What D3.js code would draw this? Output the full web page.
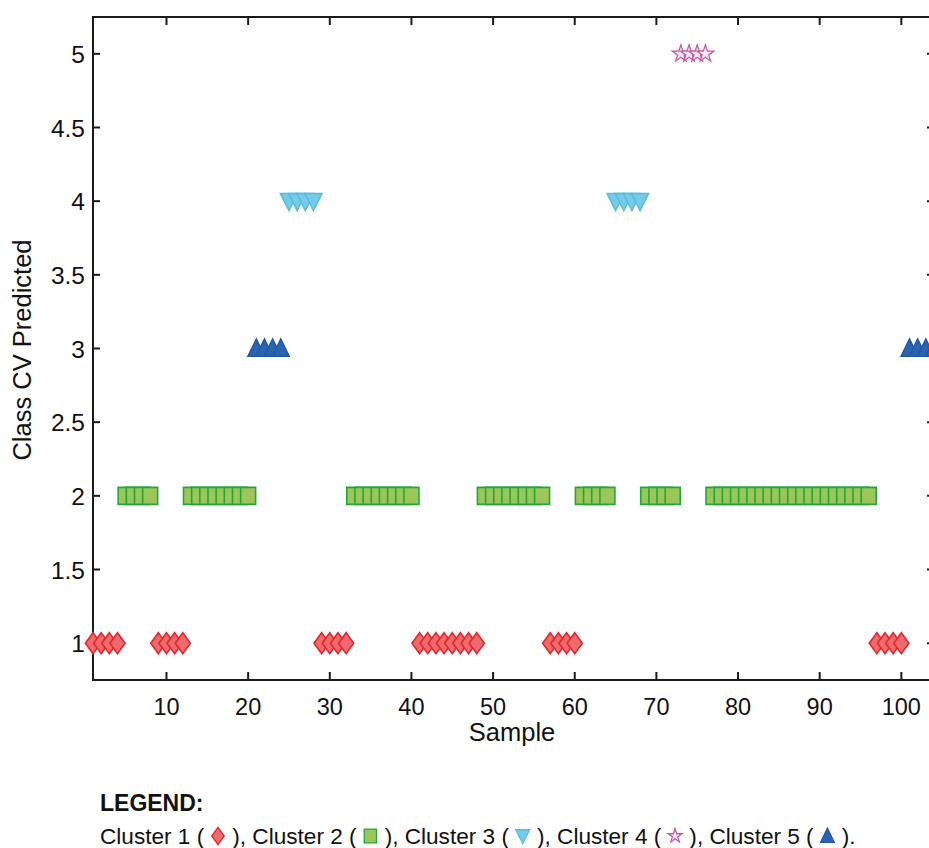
<!DOCTYPE html>
<html>
<head>
<meta charset="utf-8">
<script src="https://cdn.jsdelivr.net/npm/d3@7"></script>
<style>
  body { margin: 0; background: #fff; }
  svg { display: block; font-family: "Liberation Sans", Arial, sans-serif; }
  text { white-space: pre; }
</style>
</head>
<body>
<div id="chart"></div>
<script>
// predicted class for each sample (1..104)
const samples = d3.range(1, 105);
const predicted = [
  1,1,1,1, 2,2,2,2, 1,1,1,1, 2,2,2,2,2,2,2,2,
  3,3,3,3, 4,4,4,4, 1,1,1,1, 2,2,2,2,2,2,2,2,
  1,1,1,1,1,1,1,1, 2,2,2,2,2,2,2,2, 1,1,1,1,
  2,2,2,2, 4,4,4,4, 2,2,2,2, 5,5,5,5,
  2,2,2,2,2,2,2,2,2,2,2,2,2,2,2,2,2,2,2,2,
  1,1,1,1, 3,3,3,3
];
// which cluster each predicted class belongs to
const classCluster = {1: 1, 2: 2, 3: 5, 4: 3, 5: 4};
const clusterNames = ["Cluster 1", "Cluster 2", "Cluster 3", "Cluster 4", "Cluster 5"];
const xTicks = [10, 20, 30, 40, 50, 60, 70, 80, 90, 100];
const yTicks = [1, 1.5, 2, 2.5, 3, 3.5, 4, 4.5, 5];

const W = 929, H = 848;
const margin = {top: 17, left: 93, bottom: 680, right: 934};

const styles = {
  1: {fill: "#ee6a6d", stroke: "#e4262c"},
  2: {fill: "#9cc65a", stroke: "#21a83d"},
  3: {fill: "#76cbe9", stroke: "#55bde0"},
  4: {fill: "#fcebf5", stroke: "#c45ca8"},
  5: {fill: "#2b63ae", stroke: "#2159a5"}
};

function markerPath(c, k) {
  k = k || 1;
  if (c === 1) {
    const w = 7.6 * k, h = 10.5 * k;
    return `M0,${-h}L${w},0L0,${h}L${-w},0Z`;
  }
  if (c === 2) {
    const w = 7.5 * k, h = 8.5 * k;
    return `M${-w},${-h}H${w}V${h}H${-w}Z`;
  }
  if (c === 3) {
    const w = 8.5 * k, h = 8.5 * k;
    return `M${-w},${-h * 0.9}H${w}L0,${h * 1.1}Z`;
  }
  if (c === 4) return d3.symbol().type(d3.symbolStar).size(90 * k * k)();
  const w = 8.3 * k, h = 8.5 * k;
  return `M${-w},${h * 0.9}H${w}L0,${-h * 1.1}Z`;
}

const svg = d3.select("#chart").append("svg")
  .attr("width", W).attr("height", H);

const x = d3.scaleLinear().domain([1, 104]).range([margin.left, margin.right]);
const y = d3.scaleLinear().domain([0.75, 5.25]).range([margin.bottom, margin.top]);

const axisColor = "#1a1a1a";

// box frame
svg.append("rect")
  .attr("x", margin.left).attr("y", margin.top)
  .attr("width", margin.right - margin.left)
  .attr("height", margin.bottom - margin.top)
  .attr("fill", "none").attr("stroke", axisColor).attr("stroke-width", 2);

// inward ticks
const tickLen = 8;
svg.append("g").selectAll("line.xb").data(xTicks).enter().append("line")
  .attr("x1", d => x(d)).attr("x2", d => x(d))
  .attr("y1", margin.bottom).attr("y2", margin.bottom - tickLen)
  .attr("stroke", axisColor).attr("stroke-width", 2);
svg.append("g").selectAll("line.xt").data(xTicks).enter().append("line")
  .attr("x1", d => x(d)).attr("x2", d => x(d))
  .attr("y1", margin.top).attr("y2", margin.top + tickLen)
  .attr("stroke", axisColor).attr("stroke-width", 2);
svg.append("g").selectAll("line.yl").data(yTicks).enter().append("line")
  .attr("x1", margin.left).attr("x2", margin.left + 7)
  .attr("y1", d => y(d)).attr("y2", d => y(d))
  .attr("stroke", axisColor).attr("stroke-width", 2);
svg.append("g").selectAll("line.yr").data(yTicks).enter().append("line")
  .attr("x1", margin.right).attr("x2", margin.right - 7)
  .attr("y1", d => y(d)).attr("y2", d => y(d))
  .attr("stroke", axisColor).attr("stroke-width", 2);

// tick labels
svg.append("g").selectAll("text").data(xTicks).enter().append("text")
  .attr("x", d => x(d)).attr("y", 715)
  .attr("text-anchor", "middle")
  .attr("font-size", 23.5).attr("fill", "#111")
  .text(d => d);
svg.append("g").selectAll("text").data(yTicks).enter().append("text")
  .attr("x", 85).attr("y", d => y(d) + 9)
  .attr("text-anchor", "end")
  .attr("font-size", 24.5).attr("fill", "#111")
  .text(d => d);

// axis titles
svg.append("text")
  .attr("x", 512).attr("y", 741)
  .attr("text-anchor", "middle")
  .attr("font-size", 25.5).attr("fill", "#111")
  .text("Sample");
svg.append("text")
  .attr("transform", "translate(31,350) rotate(-90)")
  .attr("text-anchor", "middle")
  .attr("font-size", 25.5).attr("fill", "#111")
  .text("Class CV Predicted");

// markers
const points = samples.map((s, i) => ({s: s, v: predicted[i], c: classCluster[predicted[i]]}));
svg.append("g").selectAll("path").data(points).enter().append("path")
  .attr("transform", d => `translate(${x(d.s)},${y(d.v)})`)
  .attr("d", d => markerPath(d.c))
  .attr("fill", d => styles[d.c].fill)
  .attr("stroke", d => styles[d.c].stroke)
  .attr("stroke-width", d => d.c === 4 ? 1.3 : 1.6)
  .attr("stroke-linejoin", "miter");

// legend
svg.append("text")
  .attr("x", 100).attr("y", 811)
  .attr("font-size", 23).attr("font-weight", "bold").attr("fill", "#111")
  .text("LEGEND:");

const legend = svg.append("g");
let cx = 100;
const ly = 844;
function addText(t) {
  const el = legend.append("text")
    .attr("x", cx).attr("y", ly)
    .attr("font-size", 22.6).attr("fill", "#111")
    .text(t);
  cx += el.node().getComputedTextLength();
}
clusterNames.forEach((name, i) => {
  const c = i + 1;
  addText(name + " ( ");
  legend.append("path")
    .attr("transform", `translate(${cx + 7.5},${ly - 8})`)
    .attr("d", markerPath(c, 0.82))
    .attr("fill", styles[c].fill)
    .attr("stroke", styles[c].stroke)
    .attr("stroke-width", 1.3);
  cx += 15.5;
  addText(i < clusterNames.length - 1 ? " ), " : " ).");
});
</script>
</body>
</html>
